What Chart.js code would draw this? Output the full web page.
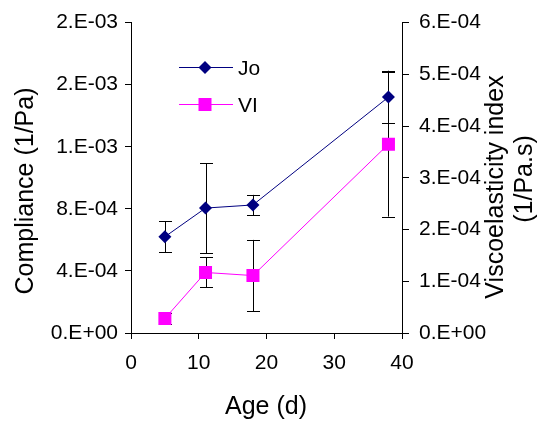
<!DOCTYPE html>
<html>
<head>
<meta charset="utf-8">
<script src="https://cdn.jsdelivr.net/npm/chart.js@4"></script>
<style>
  html, body { margin: 0; padding: 0; background: #fff; }
  #wrap { width: 547px; height: 426px; }
</style>
</head>
<body>
<div id="wrap"><canvas id="chart" width="547" height="426"></canvas></div>
<script>
// data
const ages = [5, 11, 18, 38];
const joValues = [6.2e-4, 8.05e-4, 8.25e-4, 1.52e-3];
const joErrors = [1.0e-4, 2.9e-4, 6.5e-5, 1.7e-4];
const viValues = [2.8e-5, 1.17e-4, 1.11e-4, 3.65e-4];
const viErrors = [1.0e-5, 2.9e-5, 6.9e-5, 1.4e-4];

const xTicks = [0, 10, 20, 30, 40];
const leftTickValues = [0, 4e-4, 8e-4, 1.2e-3, 1.6e-3, 2e-3];
const leftTickLabels = ['0.E+00', '4.E-04', '8.E-04', '1.E-03', '2.E-03', '2.E-03'];
const rightTickValues = [0, 1e-4, 2e-4, 3e-4, 4e-4, 5e-4, 6e-4];
const rightTickLabels = ['0.E+00', '1.E-04', '2.E-04', '3.E-04', '4.E-04', '5.E-04', '6.E-04'];

const seriesLabels = ['Jo', 'VI'];
const xTitle = 'Age (d)';
const leftTitle = 'Compliance (1/Pa)';
const rightTitle = ['Viscoelasticity index', '(1/Pa.s)'];

const FONT = '"Liberation Sans", Arial, sans-serif';
const JO_COLOR = '#000080';
const VI_COLOR = '#FF00FF';

// Function to draw the error bars behind the markers
const errorBars = {
  id: 'errorBars',
  beforeDatasetsDraw(chart) {
    const ctx = chart.ctx;
    const xs = chart.scales.x;
    const sets = [
      { scale: chart.scales.yLeft, vals: joValues, errs: joErrors },
      { scale: chart.scales.yRight, vals: viValues, errs: viErrors },
    ];
    ctx.save();
    ctx.strokeStyle = '#000';
    ctx.lineWidth = 1;
    sets.forEach((s) => {
      s.vals.forEach((v, i) => {
        const px = Math.round(xs.getPixelForValue(ages[i])) + 0.5;
        const top = s.scale.getPixelForValue(v + s.errs[i]);
        const bot = s.scale.getPixelForValue(v - s.errs[i]);
        ctx.beginPath();
        ctx.moveTo(px, top);
        ctx.lineTo(px, bot);
        ctx.moveTo(px - 6.5, Math.round(top) + 0.5);
        ctx.lineTo(px + 6.5, Math.round(top) + 0.5);
        ctx.moveTo(px - 6.5, Math.round(bot) + 0.5);
        ctx.lineTo(px + 6.5, Math.round(bot) + 0.5);
        ctx.stroke();
      });
    });
    ctx.restore();
  },
};

// Function to draw axis titles and the legend by hand
const decorations = {
  id: 'decorations',
  afterDraw(chart) {
    const ctx = chart.ctx;
    ctx.save();
    ctx.fillStyle = '#000';
    ctx.font = '25px ' + FONT;
    ctx.textAlign = 'center';
    ctx.textBaseline = 'alphabetic';
    ctx.fillText(xTitle, 266, 414);

    ctx.save();
    ctx.translate(33, 191);
    ctx.rotate(-Math.PI / 2);
    ctx.fillText(leftTitle, 0, 0);
    ctx.restore();

    ctx.save();
    ctx.translate(503, 187);
    ctx.rotate(-Math.PI / 2);
    ctx.fillText(rightTitle[0], 0, 0);
    ctx.restore();

    ctx.save();
    ctx.translate(532, 179);
    ctx.rotate(-Math.PI / 2);
    ctx.fillText(rightTitle[1], 0, 0);
    ctx.restore();

    // legend
    const rows = [
      { label: seriesLabels[0], color: JO_COLOR, y: 67.5, shape: 'diamond', base: 75 },
      { label: seriesLabels[1], color: VI_COLOR, y: 104.5, shape: 'square', base: 112 },
    ];
    rows.forEach((r) => {
      ctx.strokeStyle = r.color;
      ctx.lineWidth = 1;
      ctx.beginPath();
      ctx.moveTo(179, r.y);
      ctx.lineTo(233, r.y);
      ctx.stroke();
      ctx.fillStyle = r.color;
      ctx.beginPath();
      if (r.shape === 'diamond') {
        ctx.moveTo(205, r.y - 6.5);
        ctx.lineTo(211.5, r.y);
        ctx.lineTo(205, r.y + 6.5);
        ctx.lineTo(198.5, r.y);
        ctx.closePath();
      } else {
        ctx.rect(198.5, r.y - 6.5, 13, 13);
      }
      ctx.fill();
      ctx.fillStyle = '#000';
      ctx.font = '21px ' + FONT;
      ctx.textAlign = 'left';
      ctx.fillText(r.label, 238, r.base);
    });
    ctx.restore();
  },
};

const tickFont = { family: FONT, size: 21 };

new Chart(document.getElementById('chart'), {
  type: 'line',
  data: {
    datasets: [
      {
        label: seriesLabels[0],
        data: ages.map((a, i) => ({ x: a, y: joValues[i] })),
        yAxisID: 'yLeft',
        borderColor: JO_COLOR,
        backgroundColor: JO_COLOR,
        borderWidth: 1,
        pointStyle: 'rectRot',
        pointRadius: 6.5,
        pointBorderWidth: 0,
        tension: 0,
      },
      {
        label: seriesLabels[1],
        data: ages.map((a, i) => ({ x: a, y: viValues[i] })),
        yAxisID: 'yRight',
        borderColor: VI_COLOR,
        backgroundColor: VI_COLOR,
        borderWidth: 1,
        pointStyle: 'rect',
        pointRadius: 9.2,
        pointBorderWidth: 0,
        tension: 0,
      },
    ],
  },
  options: {
    responsive: false,
    animation: false,
    events: [],
    layout: { padding: { top: 20, left: 0, right: 0, bottom: 0 } },
    plugins: { legend: { display: false }, tooltip: { enabled: false } },
    scales: {
      x: {
        type: 'linear',
        min: 0,
        max: 40,
        afterBuildTicks: (s) => { s.ticks = xTicks.map((v) => ({ value: v })); },
        afterFit: (s) => { s.height = 93; },
        grid: { drawOnChartArea: false, tickLength: 6, color: '#000' },
        border: { color: '#000', width: 1 },
        ticks: { font: tickFont, color: '#000', padding: 12, maxRotation: 0 },
      },
      yLeft: {
        position: 'left',
        min: 0,
        max: 2e-3,
        afterBuildTicks: (s) => { s.ticks = leftTickValues.map((v) => ({ value: v })); },
        afterFit: (s) => { s.width = 131; },
        grid: { drawOnChartArea: false, tickLength: 6, color: '#000' },
        border: { color: '#000', width: 1 },
        ticks: {
          font: tickFont, color: '#000', padding: 7,
          callback: (v, i) => leftTickLabels[i],
        },
      },
      yRight: {
        position: 'right',
        min: 0,
        max: 6e-4,
        afterBuildTicks: (s) => { s.ticks = rightTickValues.map((v) => ({ value: v })); },
        afterFit: (s) => { s.width = 145; },
        grid: { drawOnChartArea: false, tickLength: 7, color: '#000' },
        border: { color: '#000', width: 1 },
        ticks: {
          font: tickFont, color: '#000', padding: 10,
          callback: (v, i) => rightTickLabels[i],
        },
      },
    },
  },
  plugins: [errorBars, decorations],
});
</script>
</body>
</html>
